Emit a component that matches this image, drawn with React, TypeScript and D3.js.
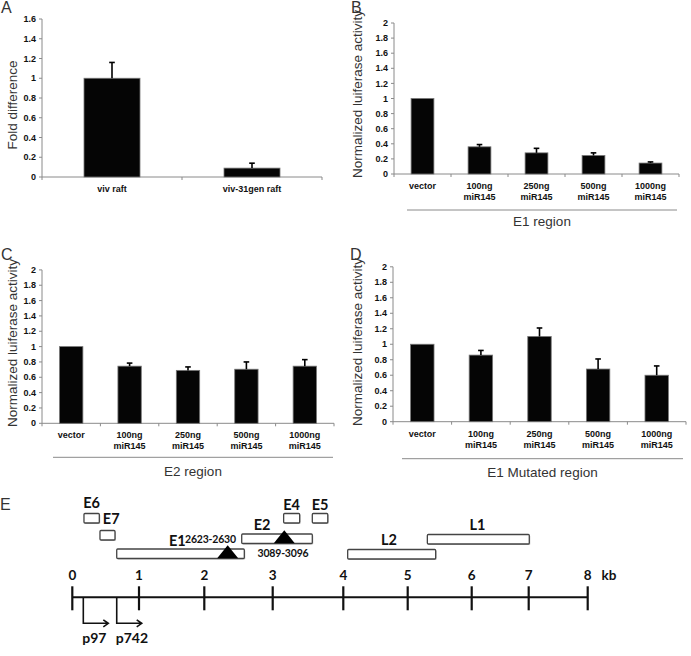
import React from "react";
import * as d3 from "d3";

// ---------- DATA ----------
const categoriesA = ["viv raft", "viv-31gen raft"];
const valuesA = [1.0, 0.09];
const errTopA = [1.16, 0.14];

const categoriesBCD = ["vector", "100ng\nmiR145", "250ng\nmiR145", "500ng\nmiR145", "1000ng\nmiR145"];
const valuesB = [1.0, 0.36, 0.28, 0.245, 0.145];
const errTopB = [1.0, 0.39, 0.34, 0.28, 0.16];
const valuesC = [1.0, 0.745, 0.69, 0.705, 0.745];
const errTopC = [1.0, 0.785, 0.735, 0.8, 0.83];
const valuesD = [1.0, 0.86, 1.1, 0.68, 0.6];
const errTopD = [1.0, 0.92, 1.21, 0.81, 0.72];

const ticksA = [0, 0.2, 0.4, 0.6, 0.8, 1, 1.2, 1.4, 1.6];
const ticksBCD = [0, 0.2, 0.4, 0.6, 0.8, 1, 1.2, 1.4, 1.6, 1.8, 2];

// Genome map (kb, as drawn)
const kbTicks = [0, 1, 2, 3, 4, 5, 6, 7, 8];
const geneNames = ["E6", "E7", "E1", "E2", "E4", "E5", "L2", "L1"];
const geneStart = [0.175, 0.415, 0.666, 2.547, 3.155, 3.561, 4.068, 5.307];
const geneEnd = [0.405, 0.64, 2.585, 3.561, 3.382, 3.78, 5.437, 7.01];
const siteNames = ["2623-2630", "3089-3096"];
const sitePos = [2.342, 3.164];
const promoterNames = ["p97", "p742"];
const promoterPos = [0.165, 0.666];

// ---------- LAYOUT ----------
const W = 691;
const H = 656;
const barFont = "'Liberation Sans', Arial, sans-serif";
const mapFont = "Lato, 'Open Sans', sans-serif";
const axisGrey = "#8a8a8a";

type PanelProps = {
  letter: string;
  letterX: number;
  letterY: number;
  x0: number;
  x1: number;
  yBottom: number;
  yTop: number;
  yMax: number;
  ticks: number[];
  categories: string[];
  values: number[];
  errTop: number[];
  title: string;
  titleX: number;
  titleY: number;
  group?: string;
  sepX0?: number;
  sepX1?: number;
  sepDy?: number;
  groupDy?: number;
};

function BarPanel(p: PanelProps) {
  const y = d3.scaleLinear().domain([0, p.yMax]).range([p.yBottom, p.yTop]);
  const x = d3.scaleBand().domain(p.categories).range([p.x0, p.x1]).paddingInner(0.6).paddingOuter(0.3);
  const step = x.step();
  const fmt = (v: number) => String(+v.toFixed(1));
  return (
    <g>
      <text x={p.letterX} y={p.letterY} fontFamily={barFont} fontSize={16} fill="#333">
        {p.letter}
      </text>
      <text
        transform={`translate(${p.titleX},${p.titleY}) rotate(-90)`}
        textAnchor="middle"
        fontFamily={barFont}
        fontSize={13.5}
        fill="#333"
      >
        {p.title}
      </text>
      {/* y axis */}
      <line x1={p.x0} x2={p.x0} y1={p.yTop} y2={p.yBottom} stroke={axisGrey} strokeWidth={1} />
      {p.ticks.map((t) => (
        <g key={t}>
          <line x1={p.x0 - 3} x2={p.x0} y1={y(t)} y2={y(t)} stroke={axisGrey} strokeWidth={1} />
          <text
            x={p.x0 - 6}
            y={y(t)}
            dy="0.35em"
            textAnchor="end"
            fontFamily={barFont}
            fontWeight={700}
            fontSize={9}
            fill="#111"
          >
            {fmt(t)}
          </text>
        </g>
      ))}
      {/* x axis */}
      <line x1={p.x0} x2={p.x1} y1={p.yBottom} y2={p.yBottom} stroke={axisGrey} strokeWidth={1} />
      {d3.range(p.categories.length + 1).map((i) => (
        <line
          key={i}
          x1={p.x0 + i * step}
          x2={p.x0 + i * step}
          y1={p.yBottom}
          y2={p.yBottom + 3}
          stroke={axisGrey}
          strokeWidth={1}
        />
      ))}
      {/* bars */}
      {p.categories.map((c, i) => {
        const bx = x(c)!;
        const bw = x.bandwidth();
        const cx = bx + bw / 2;
        const hasErr = p.errTop[i] > p.values[i];
        return (
          <g key={c}>
            <rect
              x={bx}
              y={y(p.values[i])}
              width={bw}
              height={p.yBottom - y(p.values[i])}
              fill="#050505"
              stroke="#777"
              strokeWidth={0.8}
            />
            {hasErr && (
              <g stroke="#000" strokeWidth={1.6}>
                <line x1={cx} x2={cx} y1={y(p.values[i])} y2={y(p.errTop[i])} />
                <line x1={cx - 2.8} x2={cx + 2.8} y1={y(p.errTop[i])} y2={y(p.errTop[i])} />
              </g>
            )}
            {c.split("\n").map((ln, k) => (
              <text
                key={k}
                x={cx}
                y={p.yBottom + 15 + k * 11}
                textAnchor="middle"
                fontFamily={barFont}
                fontWeight={700}
                fontSize={9}
                fill="#111"
              >
                {ln}
              </text>
            ))}
          </g>
        );
      })}
      {p.group && (
        <g>
          <line
            x1={p.sepX0}
            x2={p.sepX1}
            y1={p.yBottom + (p.sepDy || 35)}
            y2={p.yBottom + (p.sepDy || 35)}
            stroke={axisGrey}
            strokeWidth={1}
          />
          <text
            x={(p.sepX0! + p.sepX1!) / 2}
            y={p.yBottom + (p.groupDy || 52)}
            textAnchor="middle"
            fontFamily={barFont}
            fontSize={13.5}
            fill="#333"
          >
            {p.group}
          </text>
        </g>
      )}
    </g>
  );
}

function GenomeMap() {
  const kb = d3.scaleLinear().domain(kbTicks).range([72.3, 139, 204.3, 272.7, 343.3, 407.7, 471.7, 528.7, 587.7]);
  const axisY = 597.3;
  const boxH = 9.5;
  const rowTop: Record<string, number> = { E6: 513.5, E7: 530.5, E1: 549, E2: 534, E4: 513.5, E5: 513.5, L2: 549.5, L1: 534.5 };
  const labelInfo: Record<string, { x: (s: number, e: number) => number; y: number; anchor: string }> = {
    E6: { x: (s, e) => (s + e) / 2, y: 508, anchor: "middle" },
    E7: { x: () => kb(geneEnd[0]) + 3.5, y: 523.5, anchor: "start" },
    E1: { x: () => 169, y: 545.5, anchor: "start" },
    E2: { x: () => 262, y: 529.5, anchor: "middle" },
    E4: { x: (s, e) => (s + e) / 2, y: 510, anchor: "middle" },
    E5: { x: (s, e) => (s + e) / 2, y: 510, anchor: "middle" },
    L2: { x: () => 389, y: 544.5, anchor: "middle" },
    L1: { x: () => 477.5, y: 529.5, anchor: "middle" },
  };
  const siteBase = [558.3, 543.3];
  const siteLabel = [
    { x: 185, y: 543, anchor: "start" },
    { x: 283, y: 556.5, anchor: "middle" },
  ];
  return (
    <g fontFamily={mapFont}>
      <text x={0} y={510} fontFamily={barFont} fontSize={16} fill="#333">
        E
      </text>
      {geneNames.map((g, i) => {
        const s = kb(geneStart[i]);
        const e = kb(geneEnd[i]);
        const li = labelInfo[g];
        return (
          <g key={g}>
            <rect x={s + 1} y={rowTop[g] + 1} width={e - s} height={boxH} fill="#c8c8c8" rx={1} />
            <rect x={s} y={rowTop[g]} width={e - s} height={boxH} fill="#fff" stroke="#444" strokeWidth={1.3} rx={1} />
            <text x={li.x(s, e)} y={li.y} textAnchor={li.anchor} fontWeight="bold" fontSize={14.5} fill="#111">
              {g}
            </text>
          </g>
        );
      })}
      {siteNames.map((s, i) => {
        const cx = kb(sitePos[i]);
        const b = siteBase[i];
        return (
          <g key={s}>
            <path d={`M${cx},${b - 13} L${cx + 10.5},${b} L${cx - 10.5},${b} Z`} fill="#000" />
            <text
              x={siteLabel[i].x}
              y={siteLabel[i].y}
              textAnchor={siteLabel[i].anchor}
              fontWeight="bold"
              fontSize={10.5}
              letterSpacing={-0.2}
              fill="#111"
            >
              {s}
            </text>
          </g>
        );
      })}
      <line x1={kb(0)} x2={kb(8)} y1={axisY} y2={axisY} stroke="#111" strokeWidth={2} />
      {kbTicks.map((t) => (
        <g key={t}>
          <line x1={kb(t)} x2={kb(t)} y1={axisY - 11} y2={axisY + 13} stroke="#111" strokeWidth={2.2} />
          <text x={kb(t)} y={579.5} textAnchor="middle" fontWeight="bold" fontSize={13.5} fill="#111">
            {t}
          </text>
        </g>
      ))}
      <text x={601.5} y={579.5} fontWeight="bold" fontSize={13.5} fill="#111">
        kb
      </text>
      {promoterNames.map((p, i) => {
        const px = kb(promoterPos[i]);
        const ay = 623.3;
        const ax = px + 25;
        return (
          <g key={p}>
            <path
              d={`M${px},${axisY} L${px},${ay} L${ax},${ay} M${ax - 5},${ay - 3.5} L${ax},${ay} L${ax - 5},${ay + 3.5}`}
              fill="none"
              stroke="#111"
              strokeWidth={1.6}
            />
            <text x={px - 1} y={642.5} fontWeight="bold" fontSize={14} fill="#111">
              {p}
            </text>
          </g>
        );
      })}
    </g>
  );
}

export default function App() {
  return (
    <svg
      width={W}
      height={H}
      viewBox={`0 0 ${W} ${H}`}
      style={{ position: "absolute", left: 0, top: 0, background: "#fff" }}
    >
      <BarPanel
        letter="A"
        letterX={1}
        letterY={13}
        x0={42}
        x1={322}
        yBottom={177}
        yTop={19}
        yMax={1.6}
        ticks={ticksA}
        categories={categoriesA}
        values={valuesA}
        errTop={errTopA}
        title="Fold difference"
        titleX={17}
        titleY={105}
      />
      <BarPanel
        letter="B"
        letterX={351}
        letterY={13}
        x0={394}
        x1={679}
        yBottom={174}
        yTop={23}
        yMax={2}
        ticks={ticksBCD}
        categories={categoriesBCD}
        values={valuesB}
        errTop={errTopB}
        title="Normalized luiferase activity"
        titleX={362}
        titleY={94}
        group="E1 region"
        sepX0={407}
        sepX1={677}
        sepDy={36}
        groupDy={52}
      />
      <BarPanel
        letter="C"
        letterX={1}
        letterY={260}
        x0={42}
        x1={334}
        yBottom={423.3}
        yTop={269.9}
        yMax={2}
        ticks={ticksBCD}
        categories={categoriesBCD}
        values={valuesC}
        errTop={errTopC}
        title="Normalized luiferase activity"
        titleX={17}
        titleY={343}
        group="E2 region"
        sepX0={53}
        sepX1={333}
        sepDy={34}
        groupDy={53}
      />
      <BarPanel
        letter="D"
        letterX={350}
        letterY={260}
        x0={393}
        x1={686}
        yBottom={421.7}
        yTop={266.8}
        yMax={2}
        ticks={ticksBCD}
        categories={categoriesBCD}
        values={valuesD}
        errTop={errTopD}
        title="Normalized luiferase activity"
        titleX={362}
        titleY={342}
        group="E1 Mutated region"
        sepX0={402}
        sepX1={683}
        sepDy={37}
        groupDy={55}
      />
      <GenomeMap />
    </svg>
  );
}
